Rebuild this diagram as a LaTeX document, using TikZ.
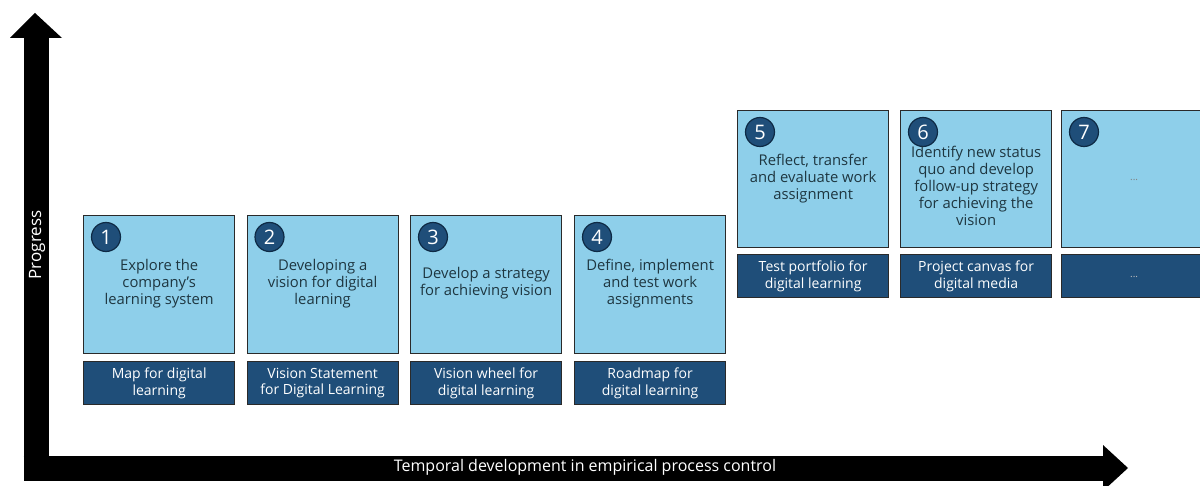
\documentclass[tikz,border=0pt]{standalone}
\usepackage{fontspec}
\setmainfont{Open Sans}
\definecolor{lightfill}{HTML}{8ECFEA}
\definecolor{darkfill}{HTML}{1F4E79}
\definecolor{boxline}{HTML}{2A2A2A}
\definecolor{boxtext}{HTML}{1E3640}
\definecolor{circline}{HTML}{0E2A45}
\begin{document}
\begin{tikzpicture}[x=1pt,y=-1pt,
  stepcard/.style={draw=boxline,line width=1.3pt,fill=lightfill,anchor=north west,minimum width=151pt,minimum height=138pt,inner sep=0pt},
  outcard/.style={draw=boxline,line width=1.3pt,fill=darkfill,anchor=north west,minimum width=151pt,minimum height=43pt,inner sep=0pt},
  steptext/.style={align=center,text=boxtext,font=\fontsize{14.8}{17}\selectfont,inner sep=0pt},
  outtext/.style={align=center,text=white,font=\fontsize{14}{16.5}\selectfont,inner sep=0pt},
  badge/.style={circle,draw=circline,line width=1.2pt,fill=darkfill,minimum size=29pt,inner sep=0pt,text=white,font=\fontsize{20}{20}\selectfont},
  axislabel/.style={text=white,font=\fontsize{16}{18}\selectfont,inner sep=0pt},
  axisbar/.style={line width=25pt,draw=black},
  dots/.style={inner sep=0pt,font=\fontsize{10}{10}\selectfont}
]
\useasboundingbox (0,0) rectangle (1200,486);

% axes
\coordinate (vtop) at (36,38);
\coordinate (corner) at (36,468);
\coordinate (hend) at (1104,468);
\draw[axisbar] (36,480.5) -- (vtop);
\draw[axisbar] (23.5,468) -- (hend);
\fill[black] (10,38) -- (62,38) -- (35,13) -- cycle;
\fill[black] (1103,445) -- (1103,491) -- (1128,468) -- cycle;
\node[axislabel,rotate=90,font=\fontsize{17}{19}\selectfont] (ylab) at (37,245) {Progress};
\node[axislabel] (xlab) at (585,467) {Temporal development in empirical process control};

% row 1
\node[stepcard] (s1) at (83,215) {};
\node[stepcard] (s2) at (246.5,215) {};
\node[stepcard] (s3) at (410,215) {};
\node[stepcard] (s4) at (574,215) {};
\node[outcard] (o1) at (83,361) {};
\node[outcard] (o2) at (246.5,361) {};
\node[outcard] (o3) at (410,361) {};
\node[outcard] (o4) at (574,361) {};

% row 2
\node[stepcard,minimum height=137pt] (s5) at (737,110) {};
\node[stepcard,minimum height=137pt] (s6) at (900,110) {};
\node[stepcard,minimum height=137pt] (s7) at (1061,110) {};
\node[outcard] (o5) at (737,254) {};
\node[outcard] (o6) at (900,254) {};
\node[outcard] (o7) at (1061,254) {};

% badges
\foreach \i in {1,...,7}{
  \node[badge] (b\i) at ([xshift=23pt,yshift=-22pt]s\i.north west) {\i};
}

% step texts
\node[steptext] (t1) at ([yshift=1pt]s1.center) {Explore the\\company's\\learning system};
\node[steptext] (t2) at ([yshift=1pt]s2.center) {Developing a\\vision for digital\\learning};
\node[steptext] (t3) at ([yshift=1pt]s3.center) {Develop a strategy\\for achieving vision};
\node[steptext] (t4) at ([yshift=1pt]s4.center) {Define, implement\\and test work\\assignments};
\node[steptext] (t5) at ([yshift=1pt]s5.center) {Reflect, transfer\\and evaluate work\\assignment};
\node[steptext] (t6) at ([yshift=-7pt]s6.center) {Identify new status\\quo and develop\\follow-up strategy\\for achieving the\\vision};
\node[dots,text=gray] (t7) at ([yshift=-1pt,xshift=-3pt]s7.center) {...};

% outcome texts
\node[outtext] (u1) at (o1.center) {Map for digital\\learning};
\node[outtext] (u2) at (o2.center) {Vision Statement\\for Digital Learning};
\node[outtext] (u3) at (o3.center) {Vision wheel for\\digital learning};
\node[outtext] (u4) at (o4.center) {Roadmap for\\digital learning};
\node[outtext] (u5) at (o5.center) {Test portfolio for\\digital learning};
\node[outtext] (u6) at (o6.center) {Project canvas for\\digital media};
\node[dots,text=lightgray] (u7) at ([xshift=-3pt,yshift=-1pt]o7.center) {...};
\end{tikzpicture}
\end{document}
